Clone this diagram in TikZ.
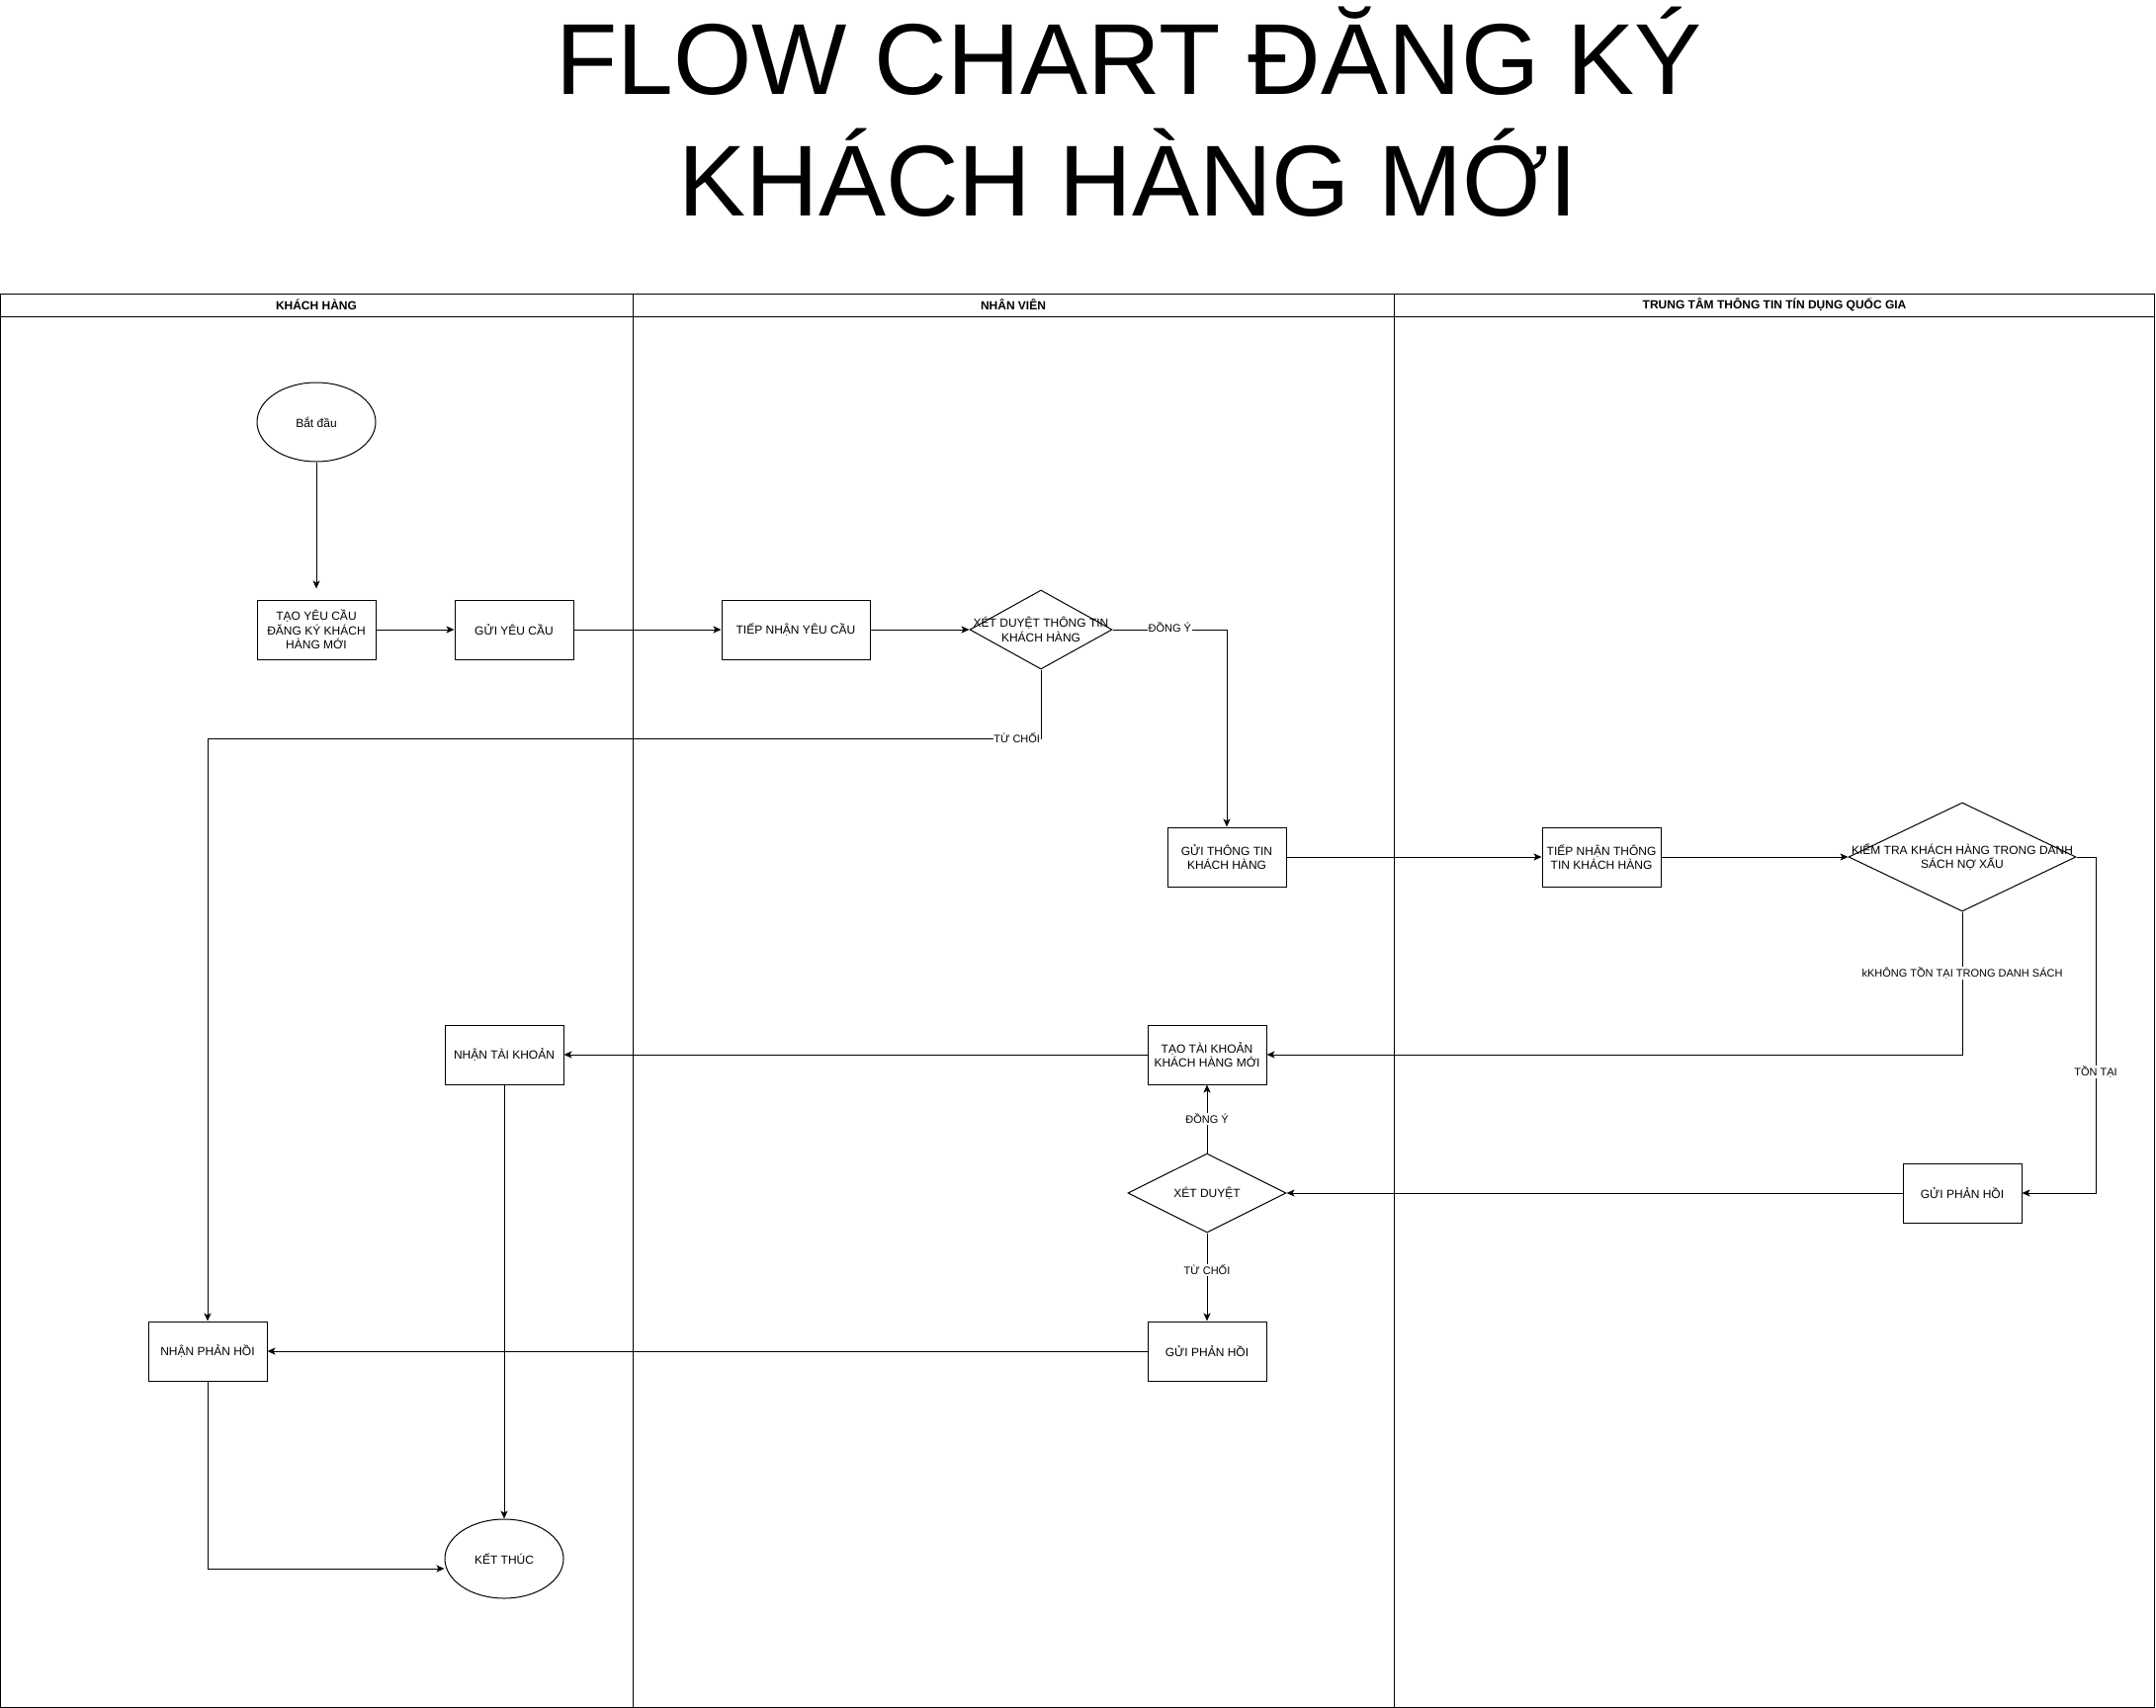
\documentclass[tikz,border=0pt]{standalone}
\usepackage{fontspec}
\setmainfont{Liberation Sans}
\usetikzlibrary{shapes.geometric,arrows.meta}
\begin{document}
\begin{tikzpicture}[x=1pt,y=-1pt,line width=1pt,
  >={Stealth[length=8pt,width=7pt,inset=2pt]},
  txt/.style={font=\fontsize{12}{14.4}\selectfont},
  box/.style={draw,rectangle,minimum width=120pt,minimum height=60pt,inner sep=0pt,align=center,txt},
  oval/.style={draw,ellipse,minimum width=120pt,minimum height=80pt,inner sep=0pt,align=center,txt},
  dia/.style={draw,diamond,inner sep=0pt},
  dlbl/.style={align=center,txt},
  elbl/.style={font=\fontsize{11}{13.2}\selectfont,fill=white,inner sep=1pt},
  lanehead/.style={font=\bfseries\fontsize{12}{14.4}\selectfont},
  titletxt/.style={font=\fontsize{102}{122}\selectfont,inner sep=0pt}]
\useasboundingbox (0,0) rectangle (2181,1728);

% title
\node[titletxt,anchor=base] (title1) at (1142,95.7) {FLOW CHART ĐĂNG KÝ};
\node[titletxt,anchor=base] (title2) at (1141,219) {KHÁCH HÀNG MỚI};

% pool and lanes
\draw (0.5,297) rectangle (2179.5,1727);
\draw (0.5,320) -- (2179.5,320);
\draw (640,297) -- (640,1727);
\draw (1410,297) -- (1410,1727);
\node[lanehead] (lane1) at (320,308.5) {KHÁCH HÀNG};
\node[lanehead] (lane2) at (1025,308.5) {NHÂN VIÊN};
\node[lanehead] (lane3) at (1795,308.5) {TRUNG TÂM THÔNG TIN TÍN DỤNG QUỐC GIA};

% nodes
\node[oval] (start) at (320,427) {Bắt đầu};
\node[box] (tao) at (320,637) {TẠO YÊU CẦU\\ĐĂNG KÝ KHÁCH\\HÀNG MỚI};
\node[box] (gui) at (520,637) {GỬI YÊU CẦU};
\node[box,minimum width=150pt] (tnyc) at (805,637) {TIẾP NHẬN YÊU CẦU};
\node[dia,minimum width=144pt,minimum height=80pt,
  label={[dlbl]center:{XÉT DUYỆT THÔNG TIN\\KHÁCH HÀNG}}] (xd1) at (1053,637) {};
\node[box] (guitt) at (1241,867) {GỬI THÔNG TIN\\KHÁCH HÀNG};
\node[box] (tntt) at (1620,867) {TIẾP NHẬN THÔNG\\TIN KHÁCH HÀNG};
\node[dia,minimum width=230pt,minimum height=110pt,
  label={[dlbl]center:{KIỂM TRA KHÁCH HÀNG TRONG DANH\\SÁCH NỢ XẤU}}] (kt) at (1985,867) {};
\node[box] (taotk) at (1221,1067) {TẠO TÀI KHOẢN\\KHÁCH HÀNG MỚI};
\node[box] (nhantk) at (510,1067) {NHẬN TÀI KHOẢN};
\node[box] (guiph2) at (1985,1207) {GỬI PHẢN HỒI};
\node[dia,minimum width=160pt,minimum height=80pt,
  label={[dlbl]center:{XÉT DUYỆT}}] (xd2) at (1221,1207) {};
\node[box] (guiph1) at (1221,1367) {GỬI PHẢN HỒI};
\node[box] (nhanph) at (210,1367) {NHẬN PHẢN HỒI};
\node[oval] (kthuc) at (510,1577) {KẾT THÚC};

\coordinate (c6) at (1053,747);
\coordinate (c10) at (2120,1207);

% connectors
\draw[->,shorten >=11pt] (start.south) -- (tao.north);
\draw[->] (tao.east) -- (gui.west);
\draw[->] (gui.east) -- (tnyc.west);
\draw[->] (tnyc.east) -- (xd1.west);
\draw[->] (xd1.east) -| node[elbl,pos=0.25,yshift=2pt]{ĐỒNG Ý} (guitt.north);
\draw[->] (xd1.south) -- (c6) node[elbl,anchor=east,inner sep=0.5pt]{TỪ CHỐI} -| (nhanph.north);
\draw[->] (guitt.east) -- (tntt.west);
\draw[->] (tntt.east) -- (kt.west);
\draw[->] (kt.south) |- node[elbl,pos=0.214]{kKHÔNG TỒN TẠI TRONG DANH SÁCH} (taotk.east);
\draw[->] (kt.east) -| node[elbl,pos=0.82]{TỒN TẠI} (c10) -- (guiph2.east);
\draw[->] (guiph2.west) -- (xd2.east);
\draw[->] (xd2.north) -- node[elbl]{ĐỒNG Ý} (taotk.south);
\draw[->] (xd2.south) -- node[elbl,pos=0.42]{TỪ CHỐI} (guiph1.north);
\draw[->] (taotk.west) -- (nhantk.east);
\draw[->] (guiph1.west) -- (nhanph.east);
\draw[->] (nhantk.south) -- (kthuc.north);
\draw[->] (nhanph.south) |- ([yshift=-10pt]kthuc.west);
\end{tikzpicture}
\end{document}
